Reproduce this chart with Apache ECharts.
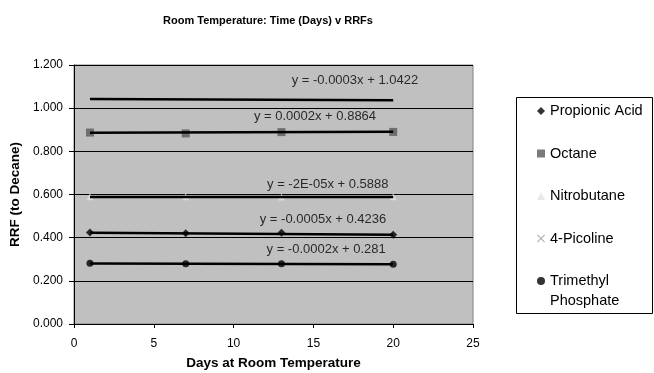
<!DOCTYPE html>
<html><head><meta charset="utf-8">
<script src="https://cdn.jsdelivr.net/npm/echarts@6/dist/echarts.min.js"></script>
<style>html,body{margin:0;padding:0;background:#fff}#c{width:654px;height:373px}</style>
</head><body><div id="c"></div>
<script>
const days = [1, 7, 13, 20];
const propionicAcid = [0.424, 0.420, 0.423, 0.414];
const octane = [0.887, 0.883, 0.889, 0.890];
const nitrobutane = [0.589, 0.589, 0.588, 0.589];
const picoline = [1.042, 1.040, 1.038, 1.036];
const trimethylPhosphate = [0.281, 0.279, 0.279, 0.277];
const trendX = [1, 20];
const trendPropionic = [0.4231, 0.4136];
const trendOctane = [0.8866, 0.8904];
const trendNitro = [0.5888, 0.5884];
const trendPicoline = [1.0419, 1.0362];
const trendTrimethyl = [0.2808, 0.2770];
const equations = ['y = -0.0005x + 0.4236','y = 0.0002x + 0.8864','y = -2E-05x + 0.5888','y = -0.0003x + 1.0422','y = -0.0002x + 0.281'];
const eqX = [15.6, 15.1, 15.9, 17.6, 15.8];
const eqY = [0.485, 0.964, 0.649, 1.13, 0.346];
const xTicks = [0, 5, 10, 15, 20, 25];
const yTicks = [0, 0.2, 0.4, 0.6, 0.8, 1.0, 1.2];
const seriesNames = ['Propionic Acid', 'Octane', 'Nitrobutane', '4-Picoline', 'Trimethyl Phosphate'];

const FONT = '"Liberation Sans", Arial, sans-serif';
const pair = (xs, ys) => xs.map((x, i) => [x, ys[i]]);
const crossPath = 'path://M0,1L1,0L5,4L9,0L10,1L6,5L10,9L9,10L5,6L1,10L0,9L4,5Z';

const chart = echarts.init(document.getElementById('c'), null, {renderer: 'canvas'});
const trend = (data) => ({type: 'line', data: pair(trendX, data), symbol: 'none', lineStyle: {color: '#000', width: 2.5}, z: 5, silent: true});
chart.setOption({
  animation: false,
  textStyle: {fontFamily: FONT},
  title: {text: 'Room Temperature: Time (Days) v RRFs', left: 263, top: 10, textAlign: 'center',
    textStyle: {fontSize: 11, fontWeight: 'bold', color: '#000', fontFamily: FONT}},
  grid: {left: 74, top: 65, right: 181, bottom: 49, show: true, outerBoundsMode: 'none', containLabel: false,
    backgroundColor: '#c0c0c0', borderColor: '#808080', borderWidth: 1},
  xAxis: {type: 'value', min: xTicks[0], max: xTicks[xTicks.length-1], interval: 5,
    name: 'Days at Room Temperature', nameLocation: 'middle', nameGap: 32,
    nameTextStyle: {fontSize: 13.5, fontWeight: 'bold', color: '#000', fontFamily: FONT},
    axisLine: {lineStyle: {color: '#000'}}, axisTick: {show: true, length: 4, lineStyle: {color: '#000'}},
    axisLabel: {fontSize: 12, color: '#000', margin: 14, fontFamily: FONT}, splitLine: {show: false}},
  yAxis: {type: 'value', min: yTicks[0], max: yTicks[yTicks.length-1], interval: 0.2,
    name: 'RRF (to Decane)', nameLocation: 'middle', nameGap: 52,
    nameTextStyle: {fontSize: 13.5, fontWeight: 'bold', color: '#000', fontFamily: FONT},
    axisLine: {show: true, lineStyle: {color: '#000'}}, axisTick: {show: true, length: 5, lineStyle: {color: '#000'}},
    axisLabel: {fontSize: 12, color: '#000', margin: 11, formatter: v => v.toFixed(3), fontFamily: FONT},
    splitLine: {show: true, lineStyle: {color: '#000', width: 1}}},
  legend: {orient: 'vertical', left: 532, top: 98, itemWidth: 8, itemHeight: 8, itemGap: 26.5,
    formatter: n => n === 'Trimethyl Phosphate' ? 'Trimethyl' : n,
    textStyle: {fontSize: 14.5, color: '#000', fontFamily: FONT, lineHeight: 16},
    data: [
      {name: seriesNames[0], icon: 'diamond'},
      {name: seriesNames[1], icon: 'rect'},
      {name: seriesNames[2], icon: 'triangle'},
      {name: seriesNames[3], icon: crossPath, itemStyle: {color: '#b0b0b0', opacity: 1}},
      {name: seriesNames[4], icon: 'circle'}
    ]},
  graphic: [
    {type: 'rect', shape: {x: 516.5, y: 97.5, width: 136, height: 216}, style: {fill: 'none', stroke: '#000', lineWidth: 1}, silent: true},
    {type: 'text', left: 550, top: 293, style: {text: 'Phosphate', font: '14.5px ' + FONT, fill: '#000'}, silent: true}
  ],
  series: [
    {name: seriesNames[0], type: 'scatter', data: pair(days, propionicAcid), symbol: 'diamond', symbolSize: 8, itemStyle: {color: '#000'}, z: 3},
    {name: seriesNames[1], type: 'scatter', data: pair(days, octane), symbol: 'rect', symbolSize: 8, itemStyle: {color: '#595959'}, z: 3},
    {name: seriesNames[2], type: 'scatter', data: pair(days, nitrobutane), symbol: 'triangle', symbolSize: 7, itemStyle: {color: '#e4e4e4'}, z: 3},
    {name: seriesNames[3], type: 'scatter', data: pair(days, picoline), symbol: crossPath, symbolSize: 6, itemStyle: {color: '#b0b0b0', opacity: 0}, z: 3},
    {name: seriesNames[4], type: 'scatter', data: pair(days, trimethylPhosphate), symbol: 'circle', symbolSize: 7, itemStyle: {color: '#000'}, z: 3},
    trend(trendPropionic), trend(trendOctane), trend(trendNitro), trend(trendPicoline), trend(trendTrimethyl),
    {type: 'scatter', silent: true, z: 6, symbolSize: 0,
      data: equations.map((t, i) => ({value: [eqX[i], eqY[i]], label: {show: true, formatter: t, position: 'inside', fontSize: 13, color: '#000', fontFamily: FONT}}))}
  ]
});
</script></body></html>
